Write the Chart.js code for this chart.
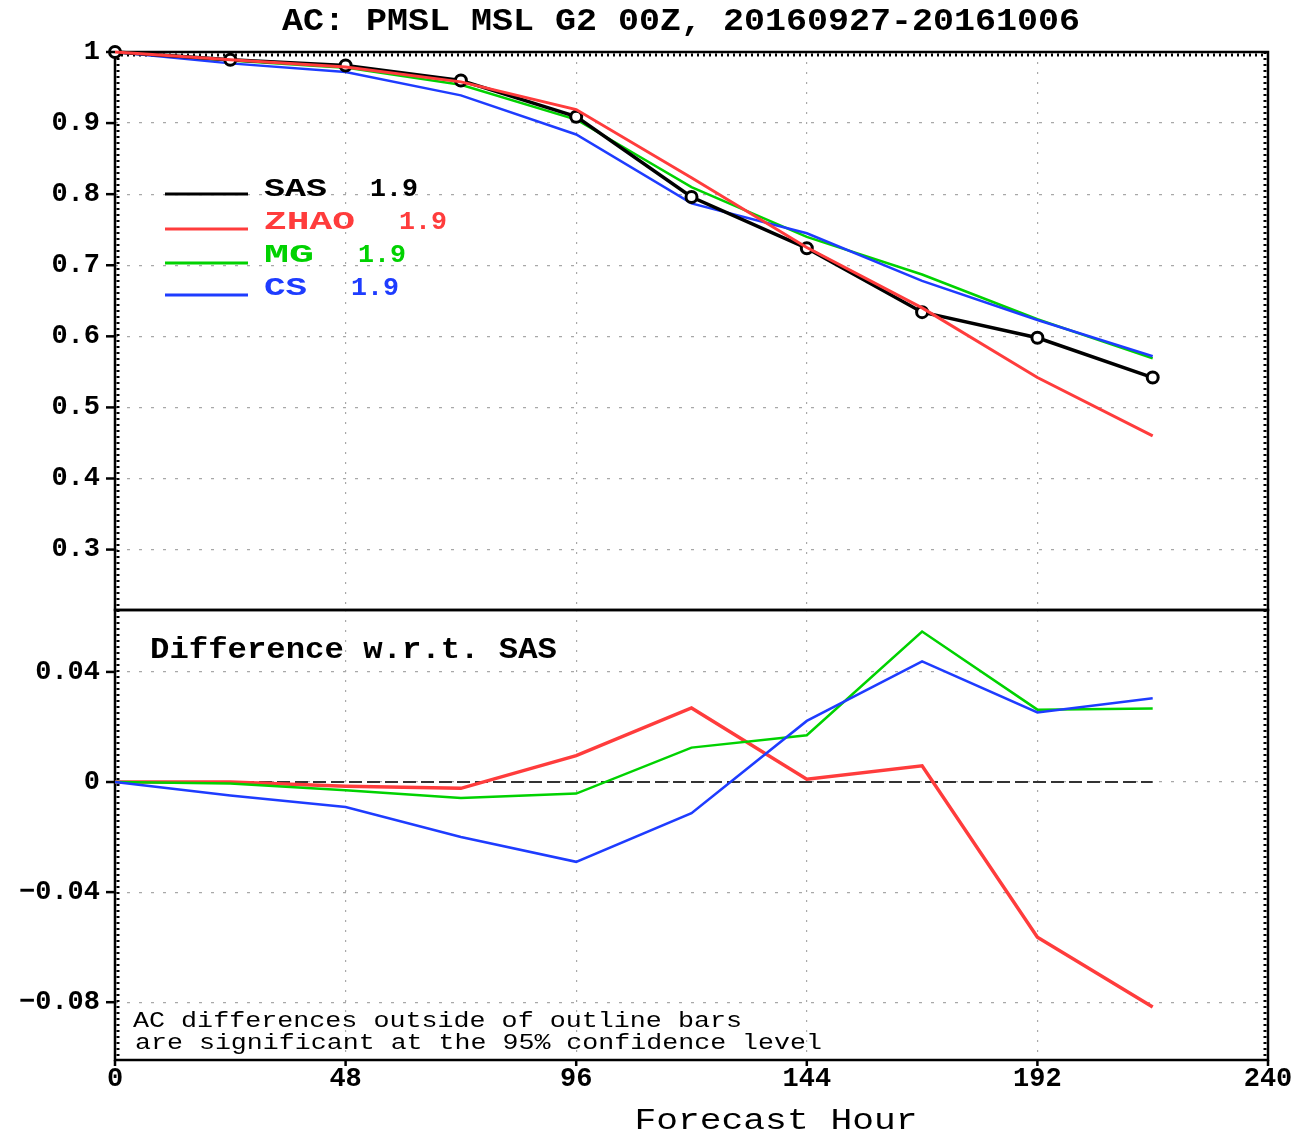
<!DOCTYPE html>
<html>
<head>
<meta charset="utf-8">
<script src="https://cdn.jsdelivr.net/npm/chart.js@4/dist/chart.umd.min.js"></script>
<style>
	body { margin: 0; background: #fff; }
	#wrap { position: relative; width: 1299px; height: 1132px; }
	canvas { position: absolute; left: 0; top: 0; }
</style>
</head>
<body>
<div id="wrap">
	<canvas id="top" width="1299" height="1132"></canvas>
	<canvas id="bottom" width="1299" height="1132"></canvas>
</div>
<script>
// Data
const hours = [0, 24, 48, 72, 96, 120, 144, 168, 192, 216]

const sas = [1.0, 0.989, 0.981, 0.960, 0.909, 0.796, 0.724, 0.634, 0.598, 0.542]
const zhao = [1.0, 0.989, 0.979, 0.958, 0.919, 0.823, 0.725, 0.640, 0.542, 0.460]
const mg = [1.0, 0.988, 0.978, 0.954, 0.905, 0.810, 0.740, 0.687, 0.624, 0.569]
const cs = [1.0, 0.984, 0.972, 0.939, 0.884, 0.787, 0.745, 0.678, 0.623, 0.572]

const sasDiff = [0, 0, 0, 0, 0, 0, 0, 0, 0, 0]
const zhaoDiff = [0, 0, -0.0015, -0.0023, 0.0096, 0.0269, 0.0010, 0.0059, -0.0564, -0.0817]
const mgDiff = [0, -0.0005, -0.0030, -0.0058, -0.0042, 0.0125, 0.0170, 0.0547, 0.0263, 0.0267]
const csDiff = [0, -0.0049, -0.0091, -0.0200, -0.0290, -0.0113, 0.0222, 0.0438, 0.0253, 0.0304]

const names = ['SAS', 'ZHAO', 'MG', 'CS']
const scores = ['1.9', '1.9', '1.9', '1.9']

const xTicks = [0, 48, 96, 144, 192, 240]
const xLabels = ['0', '48', '96', '144', '192', '240']
const topTicks = [0.3, 0.4, 0.5, 0.6, 0.7, 0.8, 0.9, 1]
const topLabels = ['0.3', '0.4', '0.5', '0.6', '0.7', '0.8', '0.9', '1']
const diffTicks = [-0.08, -0.04, 0, 0.04]
const diffLabels = ['\u22120.08', '\u22120.04', '0', '0.04']

const COLORS = ['#000000', '#ff3c3c', '#00d200', '#1e3cff']
const BOLD = px => 'bold ' + px + 'px "Liberation Mono"'
const PLAIN = px => px + 'px "Liberation Mono"'

// Helpers

function pts(ys) {
	return hours.map((h, i) => ({ x: h, y: ys[i] }))
}

function txt(ctx, s, x, y, font, color, w, align) {
	ctx.save()
	ctx.font = font
	ctx.fillStyle = color
	ctx.textBaseline = 'middle'
	ctx.textAlign = 'left'
	const m = ctx.measureText(s).width
	const sx = w ? w / m : 1
	let left = x
	if (align === 'center') left = x - m * sx / 2
	else if (align === 'right') left = x - m * sx
	ctx.translate(left, y)
	ctx.scale(sx, 1)
	ctx.fillText(s, 0, 0)
	ctx.restore()
}

function tickText(ctx, s, x, y, align) {
	txt(ctx, s, x, y, BOLD(27), '#000', null, align)
}

function line(ctx, x1, y1, x2, y2, color, width, dash) {
	ctx.save()
	ctx.strokeStyle = color
	ctx.lineWidth = width
	ctx.setLineDash(dash || [])
	ctx.beginPath()
	ctx.moveTo(x1, y1)
	ctx.lineTo(x2, y2)
	ctx.stroke()
	ctx.restore()
}

function frame(chart, topTicksOn) {
	const ctx = chart.ctx
	const a = chart.chartArea
	ctx.save()
	ctx.strokeStyle = '#000'
	ctx.lineWidth = 2.5
	ctx.strokeRect(a.left, a.top, a.right - a.left, a.bottom - a.top)
	ctx.restore()
	// minor tick marks along the borders
	line(ctx, a.left + 3, a.top, a.left + 3, a.bottom, '#000', 3, [2, 4])
	line(ctx, a.right - 3, a.top, a.right - 3, a.bottom, '#000', 3, [2, 4])
	if (topTicksOn) line(ctx, a.left, a.top + 3, a.right, a.top + 3, '#000', 3, [2, 4])
}

function yLabels(chart, ticks, labels) {
	const ctx = chart.ctx
	const y = chart.scales.y
	const left = chart.chartArea.left
	ticks.forEach((v, i) => {
		const py = y.getPixelForValue(v)
		line(ctx, left - 9, py, left, py, '#000', 2.5)
		tickText(ctx, labels[i], left - 15, py, 'right')
	})
}

function gridScale(min, max, ticks, dash) {
	return {
		type: 'linear',
		min: min,
		max: max,
		afterBuildTicks: s => { s.ticks = ticks.map(v => ({ value: v })) },
		ticks: { display: false },
		grid: { color: '#a8a8a8', lineWidth: 1.2, drawTicks: false },
		border: { display: false, dash: dash }
	}
}

const baseOptions = (padding, yMin, yMax, yTicks) => ({
	responsive: false,
	animation: false,
	events: [],
	layout: { padding: padding },
	plugins: { legend: { display: false }, tooltip: { enabled: false } },
	elements: { line: { tension: 0 }, point: { radius: 0 } },
	scales: {
		x: gridScale(0, 240, xTicks, [2, 8]),
		y: gridScale(yMin, yMax, yTicks, [3, 9])
	}
})

// Top panel: anomaly correlation

const topText = {
	id: 'topText',
	beforeDatasetsDraw(chart) {
		frame(chart, true)
	},
	afterDraw(chart) {
		const ctx = chart.ctx
		txt(ctx, 'AC: PMSL MSL G2 00Z, 20160927-20161006', 681, 22, BOLD(31), '#000', 798, 'center')
		yLabels(chart, topTicks, topLabels)

		const rows = [[194, 190, 63, 370], [229, 223, 91, 399], [263, 256, 50, 358], [295, 289, 43, 351]]
		rows.forEach((r, i) => {
			line(ctx, 165, r[0], 248, r[0], COLORS[i], 3)
			txt(ctx, names[i], 264, r[1], BOLD(25), COLORS[i], r[2])
			txt(ctx, scores[i], r[3], r[1], BOLD(25), COLORS[i], 48)
		})
	}
}

new Chart('top', {
	type: 'line',
	data: {
		datasets: [
			{ data: pts(sas), borderColor: COLORS[0], borderWidth: 3.5, pointRadius: 5.5, pointBorderWidth: 3,
				pointBackgroundColor: '#fff', pointBorderColor: '#000', clip: 8, order: 2 },
			{ data: pts(zhao), borderColor: COLORS[1], borderWidth: 3, clip: 8, order: 1 },
			{ data: pts(mg), borderColor: COLORS[2], borderWidth: 2.5, clip: 8, order: 4 },
			{ data: pts(cs), borderColor: COLORS[3], borderWidth: 2.5, clip: 8, order: 3 }
		]
	},
	options: baseOptions({ left: 115, right: 31, top: 52, bottom: 522 }, 0.215, 1.0, topTicks),
	plugins: [topText]
})

// Bottom panel: difference with respect to SAS

const bottomText = {
	id: 'bottomText',
	beforeDatasetsDraw(chart) {
		frame(chart, false)
	},
	afterDraw(chart) {
		const ctx = chart.ctx
		const a = chart.chartArea
		const x = chart.scales.x
		yLabels(chart, diffTicks, diffLabels)
		xTicks.forEach((v, i) => {
			const px = x.getPixelForValue(v)
			line(ctx, px, a.bottom, px, a.bottom + 6, '#000', 2.5)
			tickText(ctx, xLabels[i], px, 1079, 'center')
		})
		txt(ctx, 'Difference w.r.t. SAS', 150, 650, BOLD(30), '#000', 407)
		txt(ctx, 'AC differences outside of outline bars', 133, 1021, PLAIN(22), '#000', 609)
		txt(ctx, 'are significant at the 95% confidence level', 135, 1043, PLAIN(22), '#000', 687)
		txt(ctx, 'Forecast Hour', 776, 1121, PLAIN(30), '#000', 283, 'center')
	}
}

new Chart('bottom', {
	type: 'line',
	data: {
		datasets: [
			{ data: pts(sasDiff), borderColor: '#333', borderWidth: 2, borderDash: [13, 5], order: 4 },
			{ data: pts(zhaoDiff), borderColor: COLORS[1], borderWidth: 3.5, clip: 8, order: 3 },
			{ data: pts(mgDiff), borderColor: COLORS[2], borderWidth: 2.5, clip: 8, order: 2 },
			{ data: pts(csDiff), borderColor: COLORS[3], borderWidth: 2.5, clip: 8, order: 1 }
		]
	},
	options: baseOptions({ left: 115, right: 31, top: 610, bottom: 72 }, -0.101, 0.0625, diffTicks),
	plugins: [bottomText]
})
</script>
</body>
</html>
